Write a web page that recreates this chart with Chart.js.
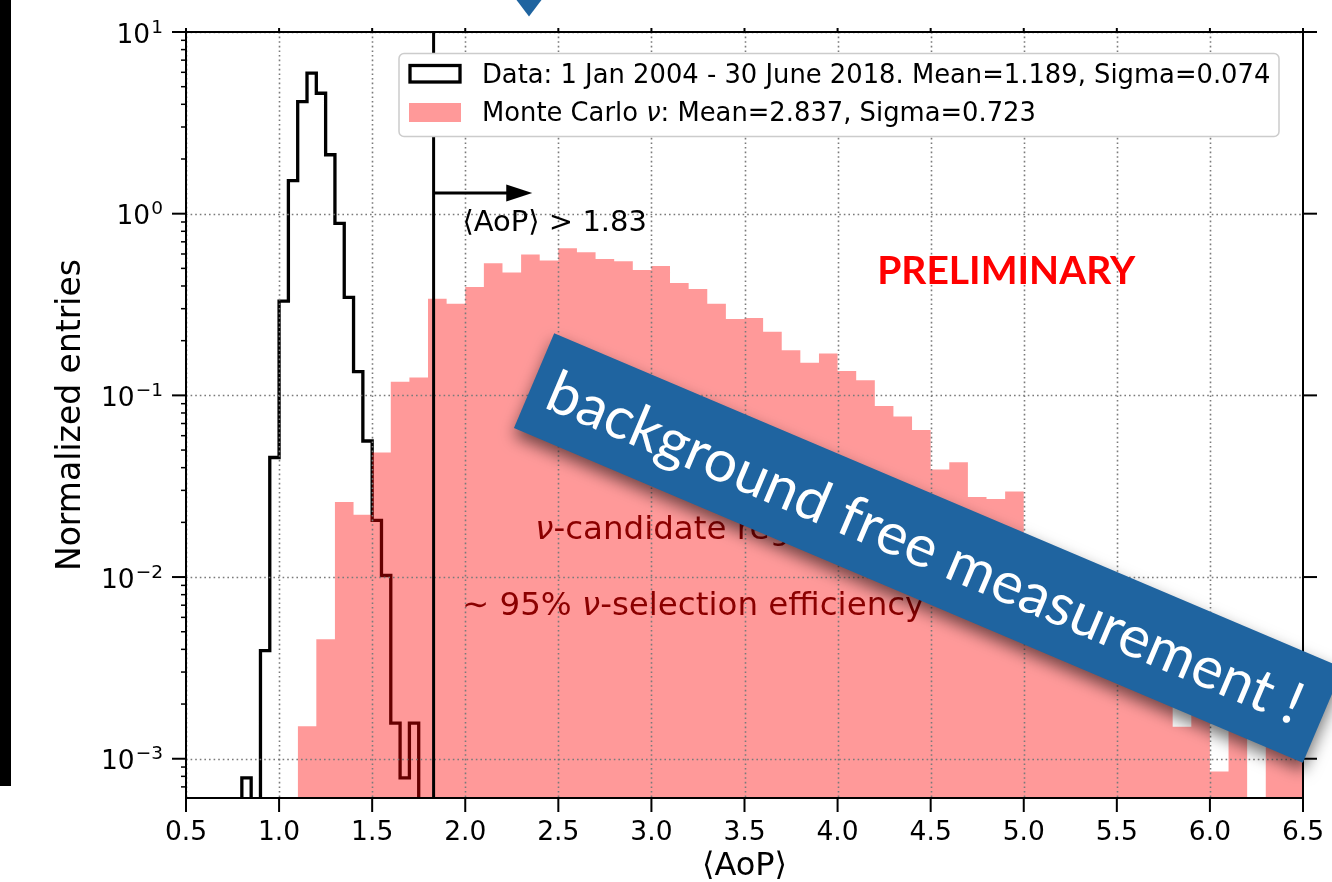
<!DOCTYPE html>
<html>
<head>
<meta charset="utf-8">
<script src="https://cdn.jsdelivr.net/npm/chart.js@4.4.1/dist/chart.umd.min.js"></script>
<style>
  html, body { margin: 0; padding: 0; background: #ffffff; }
  #wrap { position: relative; width: 1332px; height: 882px; overflow: hidden; }
  canvas { display: block; }
</style>
</head>
<body>
<div id="wrap"><canvas id="chart" width="1332" height="882"></canvas></div>
<script>
// Data histogram: <AoP> of recorded events, bins of 0.05 starting at 0.80 (normalized density)
const dataBinStart = 0.80;
const dataBinWidth = 0.05;
const dataValues = [
  7.85e-4, 0, 3.94e-3, 0.0455, 0.33, 1.52, 4.14, 5.94, 4.6, 2.11,
  0.885, 0.346, 0.135, 0.0561, 0.0205, 0.0102, 1.57e-3, 7.85e-4, 1.57e-3
];

// Monte Carlo neutrino histogram, bins of 0.1 starting at 1.1 (normalized density)
const mcBinStart = 1.1;
const mcBinWidth = 0.1;
const mcValues = [
  0.00151, 0.00454, 0.0259, 0.0220, 0.0485, 0.119, 0.1255, 0.340, 0.319, 0.395,
  0.533, 0.475, 0.597, 0.553, 0.645, 0.613, 0.563, 0.548, 0.490, 0.515,
  0.416, 0.385, 0.319, 0.263, 0.267, 0.224, 0.177, 0.151, 0.170, 0.136,
  0.121, 0.0875, 0.0765, 0.0645, 0.0391, 0.0428, 0.0276, 0.0269, 0.0296, 0.015,
  0.012, 0.0115, 0.0085, 0.0075, 0.0055, 0.005, 0.0032, 0.0015, 0.0025, 0.00085,
  0.0022, 0, 0.0016, 0.0014
];

const dataLabel = 'Data: 1 Jan 2004 - 30 June 2018. Mean=1.189, Sigma=0.074';
const mcLabel = 'Monte Carlo ν: Mean=2.837, Sigma=0.723';

// Selection cut
const aopCut = 1.83;

// Axis ticks
const xTickValues = [0.5, 1.0, 1.5, 2.0, 2.5, 3.0, 3.5, 4.0, 4.5, 5.0, 5.5, 6.0, 6.5];
const yDecadeExponents = [1, 0, -1, -2, -3];

const X_MIN = 0.5, X_MAX = 6.5;
const Y_MIN = 6.08e-4, Y_MAX = 10;
const FLOOR = 1e-7; // empty bins drop below the visible range

const FONT = '"DejaVu Sans", sans-serif';

// Outline of a histogram as a closed step path: bin edges -> corner points
function histogramPoints(start, width, values) {
  const edge = i => Math.round((start + i * width) * 10000) / 10000;
  const pts = [{ x: edge(0), y: FLOOR }];
  values.forEach((v, i) => {
    const y = v > 0 ? v : FLOOR;
    pts.push({ x: edge(i), y });
    pts.push({ x: edge(i + 1), y });
  });
  pts.push({ x: edge(values.length), y: FLOOR });
  return pts;
}

// Draws text where every "ν" is set in italic, like math-mode nu
function drawMixed(ctx, text, x, y, size, color, align) {
  const parts = text.split(/(ν)/).filter(s => s.length);
  const fontFor = p => (p === 'ν' ? 'italic ' : '') + size + 'px ' + FONT;
  let total = 0;
  parts.forEach(p => { ctx.font = fontFor(p); total += ctx.measureText(p).width; });
  let cx = x;
  if (align === 'center') cx = x - total / 2;
  else if (align === 'right') cx = x - total;
  ctx.fillStyle = color;
  ctx.textAlign = 'left';
  parts.forEach(p => {
    ctx.font = fontFor(p);
    ctx.fillText(p, cx, y);
    cx += ctx.measureText(p).width;
  });
  return total;
}

const decorations = {
  id: 'decorations',
  afterDatasetsDraw(chart) {
    const ctx = chart.ctx;
    const xs = chart.scales.x, ys = chart.scales.y;
    const a = chart.chartArea;
    const px = v => xs.getPixelForValue(v);
    const py = v => ys.getPixelForValue(v);

    ctx.save();
    ctx.textBaseline = 'alphabetic';

    // dotted grid at major ticks
    ctx.save();
    ctx.beginPath();
    ctx.rect(a.left, a.top, a.right - a.left, a.bottom - a.top);
    ctx.clip();
    ctx.strokeStyle = '#7a7a7a';
    ctx.lineWidth = 1.6;
    ctx.setLineDash([1.6, 3.0]);
    xTickValues.forEach(v => {
      const x = Math.round(px(v)) + 0.5;
      ctx.beginPath(); ctx.moveTo(x, a.top); ctx.lineTo(x, a.bottom); ctx.stroke();
    });
    yDecadeExponents.forEach(e => {
      const y = Math.round(py(Math.pow(10, e))) + 0.5;
      ctx.beginPath(); ctx.moveTo(a.left, y); ctx.lineTo(a.right, y); ctx.stroke();
    });
    ctx.restore();

    // selection cut and arrow
    ctx.strokeStyle = '#000';
    ctx.fillStyle = '#000';
    ctx.lineWidth = 3;
    const xc = px(aopCut);
    ctx.beginPath(); ctx.moveTo(xc, a.top); ctx.lineTo(xc, a.bottom); ctx.stroke();
    const ay = py(1.3);
    const tip = px(2.36);
    ctx.beginPath(); ctx.moveTo(xc, ay); ctx.lineTo(tip - 20, ay); ctx.stroke();
    ctx.beginPath();
    ctx.moveTo(tip, ay);
    ctx.lineTo(tip - 26, ay - 8.5);
    ctx.lineTo(tip - 26, ay + 8.5);
    ctx.closePath();
    ctx.fill();

    // annotations
    ctx.font = '29px ' + FONT;
    ctx.fillStyle = '#000';
    ctx.textAlign = 'left';
    ctx.fillText('\u27E8AoP\u27E9 > ' + aopCut.toFixed(2), px(1.985), py(0.806));

    ctx.font = 'bold 39px Lato, sans-serif';
    ctx.fillStyle = '#ff0000';
    ctx.textAlign = 'center';
    ctx.fillText('PRELIMINARY', px(4.906), py(0.41));

    drawMixed(ctx, 'ν-candidate region', px(2.376), py(0.01613), 32.5, '#8b0000', 'left');
    drawMixed(ctx, '\u223C 95% ν-selection efficiency', px(1.982), py(0.00615), 32.5, '#8b0000', 'left');

    // frame
    ctx.strokeStyle = '#000';
    ctx.lineWidth = 2;
    ctx.setLineDash([]);
    ctx.strokeRect(a.left, a.top, a.right - a.left, a.bottom - a.top);

    // x ticks (bottom long, top short) and labels
    ctx.lineWidth = 2;
    ctx.font = '26.5px ' + FONT;
    ctx.fillStyle = '#000';
    ctx.textAlign = 'center';
    xTickValues.forEach(v => {
      const x = px(v);
      ctx.beginPath(); ctx.moveTo(x, a.bottom); ctx.lineTo(x, a.bottom + 14); ctx.stroke();
      ctx.beginPath(); ctx.moveTo(x, a.top); ctx.lineTo(x, a.top - 4); ctx.stroke();
      ctx.fillText(v.toFixed(1), x, a.bottom + 42);
    });

    // y ticks: decades long on both sides, minor ticks short on the left
    yDecadeExponents.forEach(e => {
      const y = py(Math.pow(10, e));
      ctx.lineWidth = 2;
      ctx.beginPath(); ctx.moveTo(a.left - 14, y); ctx.lineTo(a.left, y); ctx.stroke();
      ctx.beginPath(); ctx.moveTo(a.right, y); ctx.lineTo(a.right + 14, y); ctx.stroke();
    });
    ctx.lineWidth = 1.5;
    for (let e = -4; e <= 0; e++) {
      for (let s = 2; s <= 9; s++) {
        const v = s * Math.pow(10, e);
        if (v < Y_MIN || v > Y_MAX) continue;
        const y = py(v);
        ctx.beginPath(); ctx.moveTo(a.left - 5, y); ctx.lineTo(a.left, y); ctx.stroke();
      }
    }

    // y tick labels as 10 with a superscript exponent
    yDecadeExponents.forEach(e => {
      const y = py(Math.pow(10, e));
      const exp = e < 0 ? '\u2212' + Math.abs(e) : String(e);
      const right = a.left - 23;
      ctx.textAlign = 'right';
      ctx.font = '18.5px ' + FONT;
      const ew = ctx.measureText(exp).width;
      ctx.fillText(exp, right, y + 0.5);
      ctx.font = '26.5px ' + FONT;
      ctx.fillText('10', right - ew - 1, y + 10.5);
    });

    // axis titles
    ctx.font = '32px ' + FONT;
    ctx.textAlign = 'center';
    ctx.fillText('\u27E8AoP\u27E9', (a.left + a.right) / 2, 875);
    ctx.save();
    ctx.translate(71, (a.top + a.bottom) / 2);
    ctx.rotate(-Math.PI / 2);
    ctx.font = '33px ' + FONT;
    ctx.textBaseline = 'middle';
    ctx.fillText('Normalized entries', 0, 0);
    ctx.restore();

    // legend
    const ds = chart.data.datasets;
    const lx = 399, ly = 53.5, lw = 880, lh = 83;
    ctx.beginPath();
    ctx.roundRect(lx, ly, lw, lh, 5);
    ctx.fillStyle = '#ffffff';
    ctx.fill();
    ctx.strokeStyle = '#cccccc';
    ctx.lineWidth = 1.5;
    ctx.stroke();
    ctx.strokeStyle = ds[0].borderColor;
    ctx.lineWidth = 3.3;
    ctx.strokeRect(410, 65.5, 50, 16.5);
    ctx.fillStyle = ds[1].backgroundColor;
    ctx.fillRect(409, 103, 52, 19);
    drawMixed(ctx, ds[0].label, 482, 83, 25.8, '#000', 'left');
    drawMixed(ctx, ds[1].label, 482, 121, 25.8, '#000', 'left');

    ctx.restore();
  },
  afterDraw(chart) {
    const ctx = chart.ctx;
    ctx.save();

    // edge of a neighbouring panel
    ctx.fillStyle = '#000';
    ctx.fillRect(0, 0, 11, 786);

    // marker at the top
    ctx.fillStyle = '#1f64a0';
    ctx.beginPath();
    ctx.moveTo(515, -2); ctx.lineTo(543, -2); ctx.lineTo(529, 16.5); ctx.closePath();
    ctx.fill();

    // banner
    const cx = 928.5, cy = 548, len = 857, wid = 103;
    ctx.translate(cx, cy);
    ctx.rotate(23 * Math.PI / 180);
    ctx.shadowColor = 'rgba(0,0,0,0.55)';
    ctx.shadowBlur = 16;
    ctx.shadowOffsetX = 0;
    ctx.shadowOffsetY = 8;
    ctx.fillStyle = '#1f64a0';
    ctx.fillRect(-len / 2, -wid / 2, len, wid);
    ctx.shadowColor = 'rgba(0,0,0,0)';
    ctx.shadowBlur = 0;
    ctx.shadowOffsetY = 0;
    const banner = 'background free measurement !';
    ctx.font = '100px Lato, sans-serif';
    const size = 100 * 815 / ctx.measureText(banner).width;
    ctx.font = size.toFixed(1) + 'px Lato, sans-serif';
    ctx.fillStyle = '#ffffff';
    ctx.textAlign = 'center';
    ctx.textBaseline = 'middle';
    ctx.fillText(banner, -3, 2);

    ctx.restore();
  }
};

new Chart(document.getElementById('chart'), {
  type: 'line',
  data: {
    datasets: [
      {
        label: dataLabel,
        data: histogramPoints(dataBinStart, dataBinWidth, dataValues),
        borderColor: '#000000',
        backgroundColor: 'rgba(0,0,0,0)',
        borderWidth: 3.3,
        fill: false,
        pointRadius: 0,
        tension: 0,
        clip: 0,
        order: 2
      },
      {
        label: mcLabel,
        data: histogramPoints(mcBinStart, mcBinWidth, mcValues),
        borderColor: 'rgba(0,0,0,0)',
        backgroundColor: 'rgba(255,0,0,0.4)',
        borderWidth: 0,
        fill: 'start',
        pointRadius: 0,
        tension: 0,
        clip: 0,
        order: 1
      }
    ]
  },
  options: {
    responsive: false,
    animation: false,
    events: [],
    layout: { padding: { left: 186, top: 32, right: 29, bottom: 84 } },
    scales: {
      x: { type: 'linear', min: X_MIN, max: X_MAX, bounds: 'data', display: false },
      y: { type: 'logarithmic', min: Y_MIN, max: Y_MAX, bounds: 'data', display: false }
    },
    plugins: {
      legend: { display: false },
      tooltip: { enabled: false },
      filler: { propagate: false }
    }
  },
  plugins: [decorations]
});
</script>
</body>
</html>
